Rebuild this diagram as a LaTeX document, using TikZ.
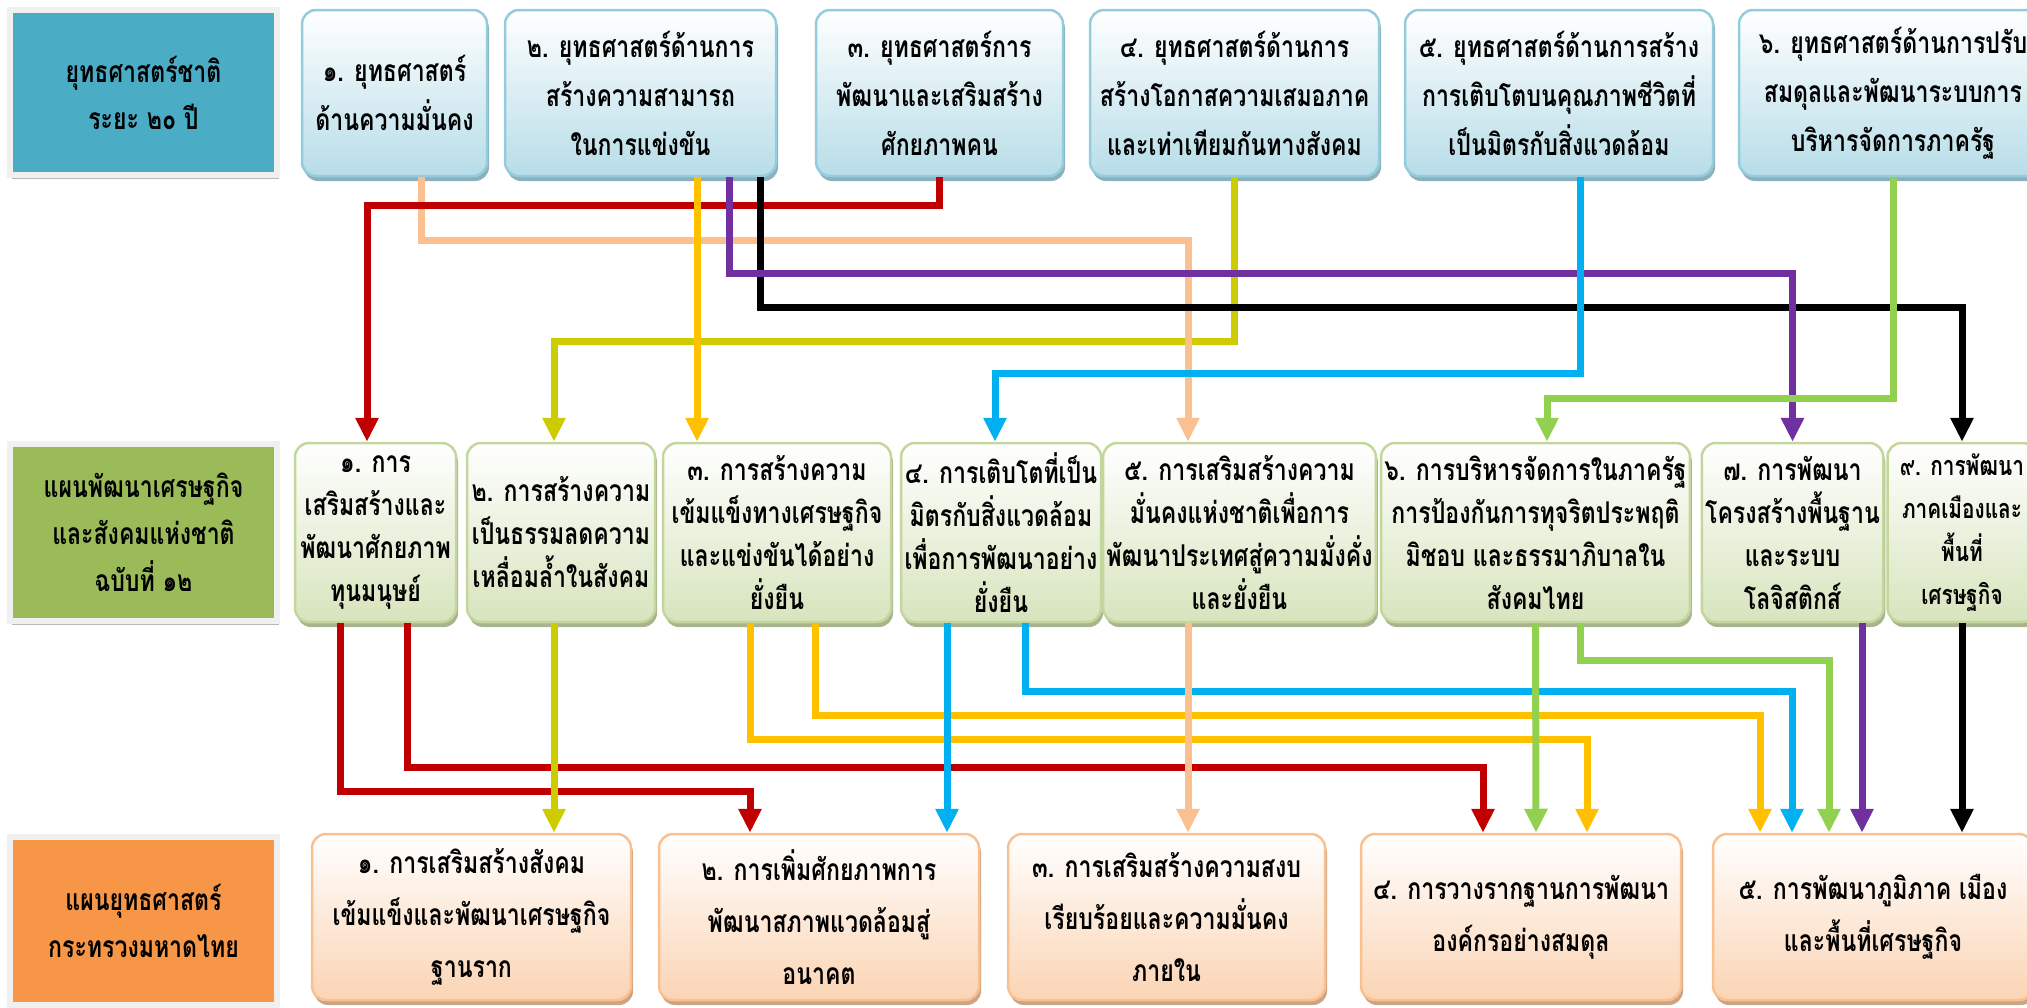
\documentclass[tikz,border=0pt]{standalone}
\usepackage{fontspec}
\newfontfamily\thai[Script=Thai,FakeStretch=0.77]{Loma}
\usetikzlibrary{arrows.meta,shadows,calc}
\newcommand\tightskip{\lineskiplimit=-100pt\relax}

\definecolor{headteal}{HTML}{4BACC6}
\definecolor{headgreen}{HTML}{9BBB59}
\definecolor{headorange}{HTML}{F79646}
\definecolor{topline}{HTML}{93CDDD}
\definecolor{topfill}{HTML}{B7DDE8}
\definecolor{topshade}{HTML}{8EAFBC}
\definecolor{midline}{HTML}{C3D69B}
\definecolor{midfill}{HTML}{D7E4BD}
\definecolor{midshade}{HTML}{A7B48E}
\definecolor{botline}{HTML}{FAC090}
\definecolor{botfill}{HTML}{FBD4B4}
\definecolor{botshade}{HTML}{C9A487}
\definecolor{redlink}{HTML}{C00000}
\definecolor{peachlink}{HTML}{FAC090}
\definecolor{goldlink}{HTML}{FFC000}
\definecolor{purplelink}{HTML}{7030A0}
\definecolor{olivelink}{HTML}{CCCC00}
\definecolor{bluelink}{HTML}{00B0F0}
\definecolor{greenlink}{HTML}{92D050}

\tikzset{
  boxtext/.style={align=center,
    font=\thai\bfseries\fontsize{30}{#1}\selectfont\tightskip},
  headbox/.style={draw=black!6, line width=6pt, minimum width=267pt,
    drop shadow={shadow xshift=2pt, shadow yshift=-4pt, fill=black!28, opacity=1},
    boxtext=47},
  topbox/.style={rounded corners=14pt, draw=topline, line width=2.5pt,
    top color=white, bottom color=topfill, minimum height=166pt,
    drop shadow={shadow xshift=2pt, shadow yshift=-5pt, fill=topshade, opacity=1},
    boxtext=49},
  midbox/.style={rounded corners=14pt, draw=midline, line width=2.5pt,
    top color=white, bottom color=midfill, minimum height=179pt,
    drop shadow={shadow xshift=2pt, shadow yshift=-5pt, fill=midshade, opacity=1},
    boxtext=43},
  botbox/.style={rounded corners=14pt, draw=botline, line width=2.5pt,
    top color=white, bottom color=botfill, minimum height=166pt,
    drop shadow={shadow xshift=2pt, shadow yshift=-5pt, fill=botshade, opacity=1},
    boxtext=52},
  link/.style={line width=7pt, -{Triangle[length=24pt,width=22pt]}}
}

\begin{document}
\begin{tikzpicture}[x=1pt,y=-1pt]
\useasboundingbox (0,0) rectangle (2027,1007);

% row titles
\node[headbox, fill=headteal, minimum height=165pt] (head1) at (143.5,92.5) {ยุทธศาสตร์ชาติ\\ระยะ ๒๐ ปี};
\node[headbox, fill=headgreen, minimum height=177pt] (head2) at (143.5,532.5) {แผนพัฒนาเศรษฐกิจ\\และสังคมแห่งชาติ\\ฉบับที่ ๑๒};
\node[headbox, fill=headorange, minimum height=168pt] (head3) at (143.5,921) {แผนยุทธศาสตร์\\กระทรวงมหาดไทย};

% national strategy
\node[topbox, minimum width=185pt] (b1) at (394.5,93) {๑. ยุทธศาสตร์\\ด้านความมั่นคง};
\node[topbox, minimum width=271pt] (b2) at (640.5,93) {๒. ยุทธศาสตร์ด้านการ\\สร้างความสามารถ\\ในการแข่งขัน};
\node[topbox, minimum width=247pt] (b3) at (939.5,93) {๓. ยุทธศาสตร์การ\\พัฒนาและเสริมสร้าง\\ศักยภาพคน};
\node[topbox, minimum width=289pt] (b4) at (1234.5,93) {๔. ยุทธศาสตร์ด้านการ\\สร้างโอกาสความเสมอภาค\\และเท่าเทียมกันทางสังคม};
\node[topbox, minimum width=308pt] (b5) at (1559,93) {๕. ยุทธศาสตร์ด้านการสร้าง\\การเติบโตบนคุณภาพชีวิตที่\\เป็นมิตรกับสิ่งแวดล้อม};
\node[topbox, minimum width=308pt] (b6) at (1893,93) {๖. ยุทธศาสตร์ด้านการปรับ\\สมดุลและพัฒนาระบบการ\\บริหารจัดการภาครัฐ};

% plan 12
\node[midbox, minimum width=161pt] (p1) at (375.5,532.5) {๑. การ\\เสริมสร้างและ\\พัฒนาศักยภาพ\\ทุนมนุษย์};
\node[midbox, minimum width=188pt] (p2) at (561,532.5) {๒. การสร้างความ\\เป็นธรรมลดความ\\เหลื่อมล้ำในสังคม};
\node[midbox, minimum width=228pt] (p3) at (777,532.5) {๓. การสร้างความ\\เข้มแข็งทางเศรษฐกิจ\\และแข่งขันได้อย่าง\\ยั่งยืน};
\node[midbox, minimum width=200pt] (p4) at (1001,532.5) {๔. การเติบโตที่เป็น\\มิตรกับสิ่งแวดล้อม\\เพื่อการพัฒนาอย่าง\\ยั่งยืน};
\node[midbox, minimum width=255pt] (p5) at (1239.5,532.5) {๕. การเสริมสร้างความ\\มั่นคงแห่งชาติเพื่อการ\\พัฒนาประเทศสู่ความมั่งคั่ง\\และยั่งยืน};
\node[midbox, minimum width=303pt] (p6) at (1535.5,532.5) {๖. การบริหารจัดการในภาครัฐ\\การป้องกันการทุจริตประพฤติ\\มิชอบ และธรรมาภิบาลใน\\สังคมไทย};
\node[midbox, minimum width=177pt] (p7) at (1792.5,532.5) {๗. การพัฒนา\\โครงสร้างพื้นฐาน\\และระบบ\\โลจิสติกส์};
\node[midbox, minimum width=149pt, font=\thai\bfseries\fontsize{27}{43}\selectfont\tightskip] (p9) at (1962,532.5) {๙. การพัฒนา\\ภาคเมืองและ\\พื้นที่\\เศรษฐกิจ};

% ministry plan
\node[botbox, minimum width=319pt] (m1) at (471.5,917) {๑. การเสริมสร้างสังคม\\เข้มแข็งและพัฒนาเศรษฐกิจ\\ฐานราก};
\node[botbox, minimum width=320pt] (m2) at (819,917) {๒. การเพิ่มศักยภาพการ\\พัฒนาสภาพแวดล้อมสู่\\อนาคต};
\node[botbox, minimum width=317pt] (m3) at (1166.5,917) {๓. การเสริมสร้างความสงบ\\เรียบร้อยและความมั่นคง\\ภายใน};
\node[botbox, minimum width=320pt] (m4) at (1521,917) {๔. การวางรากฐานการพัฒนา\\องค์กรอย่างสมดุล};
\node[botbox, minimum width=320pt] (m5) at (1873,917) {๕. การพัฒนาภูมิภาค เมือง\\และพื้นที่เศรษฐกิจ};

% strategy -> plan
\draw[link, olivelink] (b4.south) -- ++(0,164) -| ($(p2.north)+(-7,0)$);
\draw[link, peachlink] ($(b1.south)+(26.5,0)$) -- ++(0,63) -| ($(p5.north)+(-51.5,0)$);
\draw[link, redlink] (b3.south) -- ++(0,28) -| ($(p1.north)+(-8.5,0)$);
\draw[link, black] ($(b2.south)+(119.5,0)$) -- ++(0,130) -| (p9.north);
\draw[link, purplelink] ($(b2.south)+(88.5,0)$) -- ++(0,96) -| (p7.north);
\draw[link, bluelink] ($(b5.south)+(21,0)$) -- ++(0,196) -| ($(p4.north)+(-6,0)$);
\draw[link, greenlink] (b6.south) -- ++(0,221) -| ($(p6.north)+(11.5,0)$);
\draw[link, goldlink] ($(b2.south)+(56.5,0)$) -- ($(p3.north)+(-80,0)$);

% plan -> ministry
\draw[link, redlink] ($(p1.south)+(-35.5,0)$) -- ++(0,168) -| ($(m2.north)+(-69,0)$);
\draw[link, redlink] ($(p1.south)+(31.5,0)$) -- ++(0,144) -| ($(m4.north)+(-38,0)$);
\draw[link, goldlink] ($(p3.south)+(-27,0)$) -- ++(0,116) -| ($(m4.north)+(66,0)$);
\draw[link, goldlink] ($(p3.south)+(38,0)$) -- ++(0,92) -| ($(m5.north)+(-113,0)$);
\draw[link, bluelink] ($(p4.south)+(24,0)$) -- ++(0,68) -| ($(m5.north)+(-81,0)$);
\draw[link, greenlink] ($(p6.south)+(44.5,0)$) -- ++(0,37) -| ($(m5.north)+(-44,0)$);
\draw[link, olivelink] ($(p2.south)+(-7,0)$) -- ($(m1.north)+(82.5,0)$);
\draw[link, bluelink] ($(p4.south)+(-54,0)$) -- ($(m2.north)+(128,0)$);
\draw[link, peachlink] ($(p5.south)+(-51.5,0)$) -- ($(m3.north)+(21.5,0)$);
\draw[link, greenlink] (p6.south) -- ($(m4.north)+(15,0)$);
\draw[link, purplelink] ($(p7.south)+(69.5,0)$) -- ($(m5.north)+(-11,0)$);
\draw[link, black] (p9.south) -- ($(m5.north)+(89,0)$);
\end{tikzpicture}
\end{document}
